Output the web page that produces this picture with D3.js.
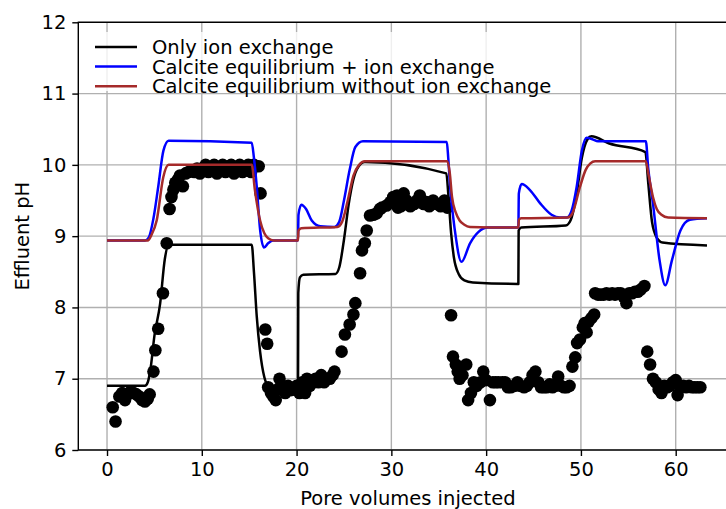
<!DOCTYPE html>
<html>
<head>
<meta charset="utf-8">
<script src="https://cdn.jsdelivr.net/npm/d3@7/dist/d3.min.js"></script>
<style>
  html, body { margin: 0; padding: 0; background: #fff; }
  svg { display: block; font-family: "DejaVu Sans", sans-serif; }
</style>
</head>
<body>
<svg id="chart" width="726" height="509"></svg>
<script>
// Measured effluent pH (black dots): pore volumes injected and pH
const measuredPV = [
  0.6, 0.9, 1.3, 1.6, 1.9, 2.2, 2.5, 2.8, 3.1, 3.4, 3.7, 4.0, 4.3, 4.5,
  4.9, 5.1, 5.4, 5.9, 6.3, 6.6, 6.8, 7.0, 7.2, 7.5, 7.7, 8.0, 8.3, 8.6, 8.9,
  9.2, 9.5, 9.8, 10.1, 10.4, 10.7, 11.0, 11.3, 11.6, 11.9, 12.2, 12.5, 12.8,
  13.1, 13.4, 13.7, 14.0, 14.3, 14.6, 14.9, 15.2, 15.5, 16.0, 16.2,
  16.7, 16.9, 17.0, 17.3, 17.55, 17.8, 18.0, 18.2, 18.5, 18.8, 19.1, 19.4,
  19.7, 20.0, 20.3, 20.6, 20.9, 21.1, 21.4, 21.7, 22.0, 22.3, 22.6, 22.9,
  23.2, 23.5, 23.8, 24.0,
  24.75, 25.1, 25.6, 26.0, 26.2, 26.7, 26.9, 27.2, 27.4, 27.75, 28.1, 28.45,
  28.8, 29.0, 29.5, 29.9, 30.2, 30.6, 30.7, 31.0, 31.3, 31.6, 32.0, 32.4,
  32.7, 33.0, 33.4, 33.7, 34.0, 34.4, 34.8, 35.2, 35.6, 35.9,
  36.3, 36.5, 36.8, 37.0, 37.2, 37.5, 37.9, 38.1, 38.4, 38.7, 39.0, 39.4,
  39.7, 40.0, 40.4, 40.7, 41.0, 41.3, 41.7, 42.0, 42.3, 42.6, 43.0, 43.3,
  43.6, 44.0, 44.3, 44.6, 44.9, 45.2, 45.5, 45.8, 46.1, 46.4, 46.7, 47.0,
  47.3, 47.6, 47.9, 48.2, 48.5, 48.8,
  49.1, 49.4, 49.6, 49.9, 50.2, 50.4, 50.6, 50.8, 51.1, 51.4,
  51.5, 51.8, 52.1, 52.4, 52.7, 53.0, 53.3, 53.6, 53.9, 54.2, 54.5, 54.8,
  55.1, 55.4, 55.7, 56.0, 56.3, 56.7,
  57.0, 57.3, 57.6, 57.9, 58.2, 58.5, 58.8, 59.1, 59.4, 59.7, 60.0, 60.2,
  60.5, 60.8, 61.1, 61.4, 61.7, 62.0, 62.3, 62.6
];
const measuredPH = [
  6.6, 6.4, 6.75, 6.8, 6.7, 6.78, 6.82, 6.8, 6.78, 6.75, 6.7, 6.68, 6.72, 6.78,
  7.1, 7.4, 7.7, 8.2, 8.9, 9.38, 9.55, 9.65, 9.75, 9.8, 9.85, 9.7, 9.88, 9.9, 9.92,
  9.9, 9.95, 9.88, 9.95, 10.0, 9.9, 9.95, 10.0, 9.88, 9.95, 10.0, 9.9, 9.98,
  10.0, 9.88, 9.95, 10.0, 9.9, 9.95, 10.0, 9.9, 10.0, 9.98, 9.6,
  7.69, 7.49, 6.88, 6.8, 6.75, 6.7, 6.85, 7.0, 6.9, 6.8, 6.9, 6.84,
  6.85, 6.9, 6.8, 6.95, 6.8, 7.0, 6.9, 6.95, 7.0, 6.95, 7.05, 6.95,
  7.0, 7.0, 7.05, 7.1,
  7.38, 7.62, 7.76, 7.9, 8.06, 8.48, 8.8, 8.9, 9.08, 9.29, 9.3, 9.32,
  9.38, 9.4, 9.43, 9.48, 9.55, 9.57, 9.4, 9.42, 9.6, 9.5, 9.42, 9.45,
  9.5, 9.57, 9.45, 9.48, 9.42, 9.5, 9.45, 9.42, 9.5, 9.4,
  7.89, 7.31, 7.2, 7.1, 7.0, 7.05, 7.2, 6.7, 6.8, 6.95, 6.9, 6.95,
  7.1, 6.98, 6.7, 6.95, 6.95, 6.95, 6.95, 6.95, 6.88, 6.88, 6.9, 6.95,
  6.9, 6.88, 6.9, 6.95, 7.05, 7.1, 6.95, 6.88, 6.88, 6.88, 6.92, 6.88,
  6.9, 7.03, 6.9, 6.88, 6.88, 6.9,
  7.17, 7.3, 7.5, 7.55, 7.72, 7.78, 7.65, 7.8, 7.85, 7.9,
  8.2, 8.18, 8.18, 8.18, 8.2, 8.18, 8.2, 8.18, 8.2, 8.2, 8.15, 8.06,
  8.2, 8.2, 8.22, 8.22, 8.25, 8.3,
  7.38, 7.2, 7.0, 6.95, 6.85, 6.8, 6.9, 6.88, 6.9, 6.95, 6.98, 6.77,
  6.88, 6.9, 6.88, 6.9, 6.88, 6.88, 6.88, 6.88
];

// Model curves: pore volumes and simulated pH
const ionExPV = [0, 4.0, 4.3, 4.6, 5.0, 5.6, 6.1, 6.5, 15.27, 15.5, 15.8, 16.15, 16.6, 17.1, 18.0, 20.15,
  20.18, 20.35, 20.7, 24.1, 24.5, 25.0, 25.5, 26.0, 26.5, 27.2, 35.8, 36.0, 36.3, 36.6, 37.1, 37.7, 38.6, 43.4,
  43.43, 43.7, 48.4, 48.9, 49.5, 50.1, 50.7, 51.1, 53.0, 56.8, 57.1, 57.5, 58.0, 58.6, 63.3];
const ionExPH = [6.9, 6.9, 6.95, 7.15, 7.6, 8.05, 8.68, 8.88, 8.88, 8.5, 7.87, 7.38, 7.02, 6.88, 6.83, 6.8,
  8.2, 8.42, 8.46, 8.47, 8.56, 8.95, 9.45, 9.8, 9.97, 10.04, 9.88, 9.6, 9.05, 8.7, 8.47, 8.38, 8.35, 8.33,
  9.08, 9.12, 9.15, 9.22, 9.55, 10.1, 10.36, 10.4, 10.3, 10.18, 9.75, 9.2, 8.98, 8.91, 8.87];

const calciteIonExPV = [0, 4.0, 4.4, 4.9, 5.4, 5.95, 6.5, 15.27, 15.5, 15.8, 16.15, 16.56, 17.0, 17.5, 20.15,
  20.2, 20.5, 21.0, 21.6, 22.5, 24.0, 24.5, 25.0, 25.6, 26.2, 27.0, 35.85, 36.0, 36.2, 36.7, 37.4, 38.3, 39.2, 40.2, 43.4,
  43.45, 43.75, 44.6, 45.7, 46.9, 47.8, 48.5, 49.0, 49.55, 50.1, 50.6, 51.2, 51.8, 56.85, 57.1, 57.6, 58.3, 58.9, 59.6, 60.5, 61.5, 63.3];
const calciteIonExPH = [8.94, 8.94, 8.98, 9.25, 9.69, 10.2, 10.34, 10.31, 10.1, 9.69, 9.09, 8.84, 8.9, 8.94, 8.94,
  9.3, 9.44, 9.38, 9.22, 9.14, 9.13, 9.2, 9.5, 9.93, 10.25, 10.33, 10.32, 10.1, 9.69, 9.08, 8.64, 8.9, 9.06, 9.12, 9.12,
  9.6, 9.73, 9.65, 9.46, 9.3, 9.26, 9.26, 9.35, 9.69, 10.2, 10.38, 10.36, 10.33, 10.33, 9.95, 9.46, 8.66, 8.31, 8.66, 9.08, 9.23, 9.25];

const calciteOnlyPV = [0, 4.3, 4.7, 5.24, 5.94, 6.5, 15.27, 15.6, 16.15, 16.6, 17.0, 17.6, 20.15,
  20.2, 20.5, 24.3, 24.8, 25.4, 26.0, 26.6, 27.2, 35.9, 36.15, 36.4, 36.8, 37.2, 37.7, 38.3, 43.4,
  43.45, 43.7, 48.6, 49.1, 49.9, 50.5, 51.0, 51.5, 56.85, 57.15, 57.6, 58.0, 58.5, 59.2, 63.3];
const calciteOnlyPH = [8.94, 8.94, 9.02, 9.22, 9.83, 10.0, 10.0, 9.65, 9.22, 9.04, 8.97, 8.94, 8.94,
  9.08, 9.11, 9.13, 9.2, 9.5, 9.85, 10.0, 10.05, 10.05, 9.9, 9.55, 9.33, 9.22, 9.16, 9.13, 9.12,
  9.23, 9.25, 9.26, 9.32, 9.69, 9.93, 10.02, 10.05, 10.05, 9.85, 9.55, 9.38, 9.3, 9.26, 9.25];

const seriesNames = ["Only ion exchange", "Calcite equilibrium + ion exchange", "Calcite equilibrium without ion exchange"];
const seriesColors = ["#000000", "#0000ff", "#a52a2a"];
const xTicks = [0, 10, 20, 30, 40, 50, 60];
const yTicks = [6, 7, 8, 9, 10, 11, 12];
const xLabel = "Pore volumes injected";
const yLabel = "Effluent pH";

const fontSize = 19.5;
const svg = d3.select("#chart");
const plot = { left: 78.3, right: 737.5, top: 22.3, bottom: 450 };

const x = d3.scaleLinear().domain([-3.03, 66.52]).range([plot.left, plot.right]);
const y = d3.scaleLinear().domain([6, 12]).range([plot.bottom, plot.top]);

svg.append("defs").append("clipPath").attr("id", "plotClip")
  .append("rect").attr("x", plot.left).attr("y", plot.top)
  .attr("width", plot.right - plot.left).attr("height", plot.bottom - plot.top);

// grid
const grid = svg.append("g").attr("stroke", "#b0b0b0").attr("stroke-width", 1.4);
xTicks.forEach(t => grid.append("line").attr("x1", x(t)).attr("x2", x(t)).attr("y1", plot.top).attr("y2", plot.bottom));
yTicks.forEach(t => grid.append("line").attr("x1", plot.left).attr("x2", plot.right).attr("y1", y(t)).attr("y2", y(t)));

const body = svg.append("g").attr("clip-path", "url(#plotClip)");

// measured points
body.append("g").selectAll("circle")
  .data(d3.zip(measuredPV, measuredPH))
  .join("circle")
  .attr("cx", d => x(d[0])).attr("cy", d => y(d[1])).attr("r", 6.3)
  .attr("fill", "#000");

// model lines
const line = d3.line().x(d => x(d[0])).y(d => y(d[1])).curve(d3.curveMonotoneX);
const curves = [
  d3.zip(ionExPV, ionExPH),
  d3.zip(calciteIonExPV, calciteIonExPH),
  d3.zip(calciteOnlyPV, calciteOnlyPH)
];
curves.forEach((c, i) => {
  body.append("path").datum(c).attr("d", line)
    .attr("fill", "none").attr("stroke", seriesColors[i]).attr("stroke-width", 2.5)
    .attr("stroke-linejoin", "round");
});

// axes
const xAxis = d3.axisBottom(x).tickValues(xTicks).tickSize(6).tickPadding(6).tickFormat(d3.format("d"));
const yAxis = d3.axisLeft(y).tickValues(yTicks).tickSize(6).tickPadding(6).tickFormat(d3.format("d"));

const gx = svg.append("g").attr("transform", `translate(0,${plot.bottom})`).call(xAxis);
const gy = svg.append("g").attr("transform", `translate(${plot.left},0)`).call(yAxis);
[gx, gy].forEach(g => {
  g.select(".domain").remove();
  g.selectAll(".tick line").attr("stroke", "#000").attr("stroke-width", 1.4);
  g.selectAll(".tick text").attr("fill", "#000").attr("font-size", fontSize)
    .attr("font-family", "DejaVu Sans, sans-serif");
});
gx.selectAll(".tick text").attr("dy", "0.72em");

// spines
const spines = svg.append("g").attr("stroke", "#000").attr("stroke-width", 1.4).attr("fill", "none");
spines.append("rect").attr("x", plot.left).attr("y", plot.top)
  .attr("width", plot.right - plot.left).attr("height", plot.bottom - plot.top);

// axis titles
svg.append("text").attr("x", (plot.left + plot.right) / 2).attr("y", 505)
  .attr("text-anchor", "middle").attr("font-size", fontSize).text(xLabel);
svg.append("text").attr("transform", `translate(29,${(plot.top + plot.bottom) / 2}) rotate(-90)`)
  .attr("text-anchor", "middle").attr("font-size", fontSize).text(yLabel);

// legend
const legend = svg.append("g");
legend.append("rect").attr("x", 86).attr("y", 32).attr("width", 478).attr("height", 59)
  .attr("fill", "#fff").attr("fill-opacity", 0.8);
seriesNames.forEach((name, i) => {
  const ly = 47 + i * 19.6;
  legend.append("line").attr("x1", 95).attr("x2", 137).attr("y1", ly).attr("y2", ly)
    .attr("stroke", seriesColors[i]).attr("stroke-width", 2.5);
  legend.append("text").attr("x", 152).attr("y", ly + 7).attr("font-size", fontSize).text(name);
});
</script>
</body>
</html>
